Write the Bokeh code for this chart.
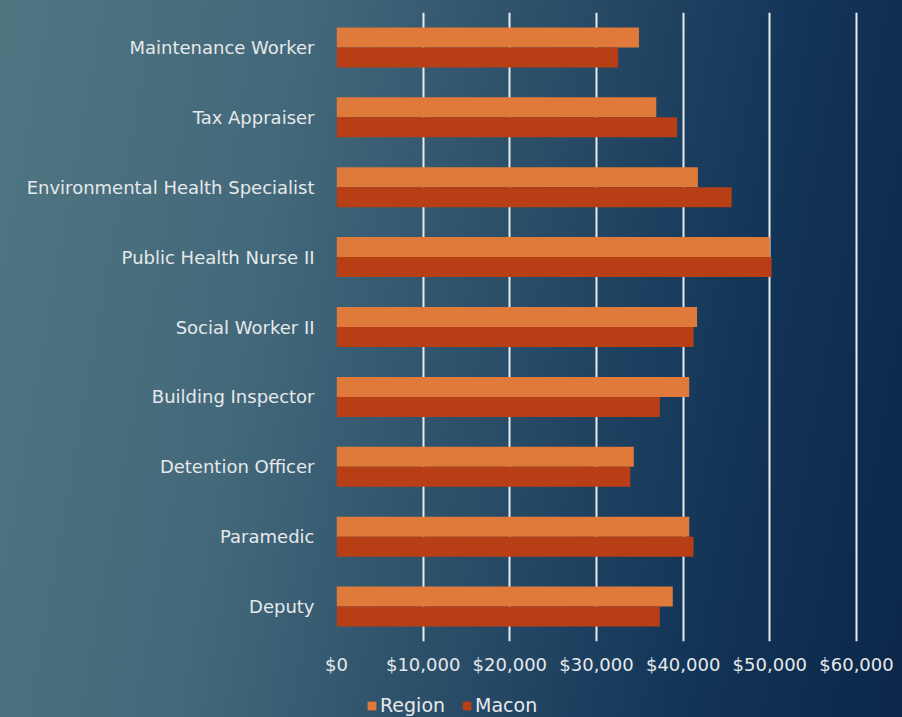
from bokeh.plotting import figure
from bokeh.layouts import column
from bokeh.models import FactorRange, Range1d, NumeralTickFormatter, Legend, LegendItem, FixedTicker, ColumnDataSource
from bokeh.transform import dodge
from bokeh.embed import file_html
from bokeh.resources import INLINE

categories = ["Maintenance Worker", "Tax Appraiser", "Environmental Health Specialist",
              "Public Health Nurse II", "Social Worker II", "Building Inspector",
              "Detention Officer", "Paramedic", "Deputy"]
region = [34900, 36900, 41700, 50000, 41600, 40700, 34300, 40700, 38800]
macon = [32500, 39300, 45600, 50200, 41200, 37300, 33900, 41200, 37300]
series = ["Region", "Macon"]
x_ticks = [0, 10000, 20000, 30000, 40000, 50000, 60000]

FONT = "DejaVu Sans"
TEXT = "#e6e9ea"
C_REGION = "#e07a3a"
C_MACON = "#b83e16"

p = figure(width=902, height=690, output_backend="svg", toolbar_location=None,
           y_range=FactorRange(*reversed(categories)), x_range=Range1d(0, 63000),
           min_border_left=336, min_border_right=20, min_border_top=12, min_border_bottom=49)
p.border_fill_color = None
p.background_fill_color = None
p.outline_line_color = None

src = dict(cat=categories, region=region, macon=macon)
p.hbar(y=dodge("cat", 0.143, range=p.y_range), right="region", left=0, height=0.286,
       source=src, fill_color=C_REGION, line_color=None)
p.hbar(y=dodge("cat", -0.143, range=p.y_range), right="macon", left=0, height=0.286,
       source=src, fill_color=C_MACON, line_color=None)

p.xgrid.ticker = FixedTicker(ticks=x_ticks)
p.xgrid.grid_line_color = "#e8eaec"
p.xgrid.grid_line_width = 2
p.ygrid.grid_line_color = None

p.xaxis.ticker = FixedTicker(ticks=x_ticks)
p.xaxis.formatter = NumeralTickFormatter(format="$0,0")
for ax in (p.xaxis[0], p.yaxis[0]):
    ax.axis_line_color = None
    ax.major_tick_line_color = None
    ax.minor_tick_line_color = None
    ax.major_tick_out = 0
    ax.major_tick_in = 0
    ax.axis_label_standoff = 0
    ax.major_label_text_color = TEXT
    ax.major_label_text_font = FONT
    ax.major_label_text_font_size = "18px"
p.xaxis.major_label_standoff = 12
p.yaxis.major_label_standoff = 22

# legend strip (frame is aligned with the main plot's frame by the column layout)
lg = figure(width=902, height=27, output_backend="svg", toolbar_location=None,
            x_range=Range1d(0, 1), y_range=Range1d(0, 1),
            min_border_left=0, min_border_right=0, min_border_top=0, min_border_bottom=0,
            x_axis_location=None, y_axis_location=None)
lg.border_fill_color = None
lg.background_fill_color = None
lg.outline_line_color = None
lg.grid.visible = False
proxy = ColumnDataSource(dict(y=[0.5], left=[0], right=[0]))
k1 = lg.hbar(y="y", left="left", right="right", height=0.5, source=proxy, fill_color=C_REGION, line_color=None)
k2 = lg.hbar(y="y", left="left", right="right", height=0.5, source=proxy, fill_color=C_MACON, line_color=None)

legend = Legend(items=[LegendItem(label=series[0], renderers=[k1]),
                       LegendItem(label=series[1], renderers=[k2])],
                orientation="horizontal", location=(30, 1))
legend.label_text_color = TEXT
legend.label_text_font = FONT
legend.label_text_font_size = "19px"
legend.label_height = 18
legend.background_fill_color = None
legend.background_fill_alpha = 0
legend.border_line_color = None
legend.glyph_width = 11
legend.glyph_height = 11
legend.label_standoff = 3
legend.spacing = 16
legend.padding = 0
legend.margin = 0
lg.add_layout(legend, "center")

layout = column(p, lg, spacing=0)
layout.styles = {"background": "linear-gradient(100deg, #507682 0%, #43687a 30%, #2a4d68 55%, #133558 78%, #0b2648 100%)"}

open("out.html", "w").write(file_html(layout, INLINE))
